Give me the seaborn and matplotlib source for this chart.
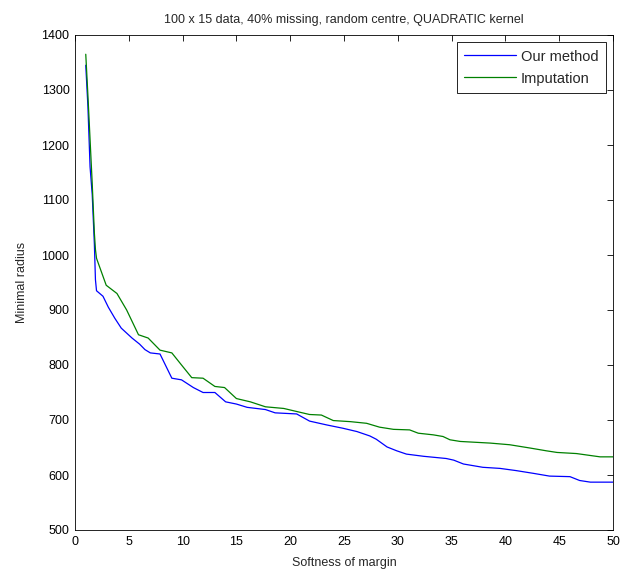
import numpy as np
import pandas as pd
import matplotlib
matplotlib.use("Agg")
import matplotlib.pyplot as plt
import seaborn as sns

# ---- data ----
ours_x = [1.0, 1.2, 1.4, 1.6, 1.8, 1.9, 2.0, 2.6, 3.1, 3.7, 4.3, 5.3, 6.0, 6.5, 7.0, 7.9,
          9.0, 9.9, 11.0, 11.9, 13.0, 14.0, 15.0, 16.0, 17.7, 18.6, 20.6, 21.8, 23.4, 24.9,
          26.2, 27.4, 28.0, 29.0, 29.9, 30.8, 32.4, 34.5, 35.2, 36.1, 37.9, 39.5, 41.0,
          42.6, 44.1, 46.0, 46.9, 47.9, 50.0]
ours_y = [1345, 1270, 1160, 1110, 1020, 955, 935, 925, 905, 885, 867, 849, 838, 828, 822, 820,
          776, 773, 759, 750, 750, 733, 729, 723, 719, 713, 711, 698, 691, 685,
          679, 671, 665, 651, 644, 638, 634, 630, 627, 620, 614, 612, 608,
          603, 598, 597, 590, 587, 587]

imp_x = [1.0, 1.2, 1.4, 1.6, 1.8, 1.9, 2.0, 2.9, 3.9, 4.8, 5.9, 6.8, 7.9, 9.0, 9.9, 10.85,
         11.9, 13.0, 13.9, 15.0, 16.3, 17.7, 19.4, 20.7, 21.8, 22.9, 24.0, 25.6, 27.1, 28.3,
         29.6, 31.1, 31.9, 33.3, 34.2, 34.85, 35.8, 38.6, 40.4, 42.3, 43.8, 44.8, 46.6,
         48.8, 50.0]
imp_y = [1365, 1290, 1210, 1130, 1040, 1010, 994, 945, 930, 900, 855, 849, 827, 822, 800, 777,
         776, 761, 759, 739, 733, 724, 721, 715, 710, 709, 699, 697, 694, 687,
         683, 682, 676, 673, 670, 664, 661, 658, 655, 649, 644, 641, 639,
         633, 633]

series_names = ["Our method", "Imputation"]
x_ticks = list(range(0, 51, 5))
y_ticks = list(range(500, 1401, 100))

df = pd.concat([
    pd.DataFrame({"x": ours_x, "y": ours_y, "method": series_names[0]}),
    pd.DataFrame({"x": imp_x, "y": imp_y, "method": series_names[1]}),
], ignore_index=True)

sns.set_style("white")
plt.rcParams["font.family"] = ["Liberation Sans", "DejaVu Sans"]
plt.rcParams["font.size"] = 9

fig = plt.figure(figsize=(6.23, 5.74), dpi=100)
ax = fig.add_axes([75 / 623, 44 / 574, 538 / 623, 495 / 574])

sns.lineplot(data=df, x="x", y="y", hue="method", estimator=None, sort=False,
             palette={"Our method": "#0000ff", "Imputation": "#008000"},
             linewidth=0.9, ax=ax)

ax.set_xlim(0, 50)
ax.set_ylim(500, 1400)
ax.set_xticks(x_ticks)
ax.set_yticks(y_ticks)
ax.tick_params(direction="in", length=4, width=0.6, top=True, right=True,
               labelsize=9, colors="black", pad=4)
for s in ax.spines.values():
    s.set_visible(True)
    s.set_color("black")
    s.set_linewidth(0.6)

ax.set_xlabel("Softness of margin", fontsize=9, labelpad=7)
ax.set_ylabel("Minimal radius", fontsize=9, labelpad=10)
ax.set_title("100 x 15 data, 40% missing, random centre, QUADRATIC kernel", fontsize=9, pad=9)

leg = ax.legend(loc="upper right", fontsize=10.5, frameon=True, fancybox=False,
                edgecolor="black", framealpha=1, borderaxespad=0.5,
                handlelength=3.6, handletextpad=0.3, borderpad=0.5, labelspacing=0.55)
leg.get_frame().set_linewidth(0.6)
leg.set_title(None)

fig.savefig("out.png", dpi=100)
